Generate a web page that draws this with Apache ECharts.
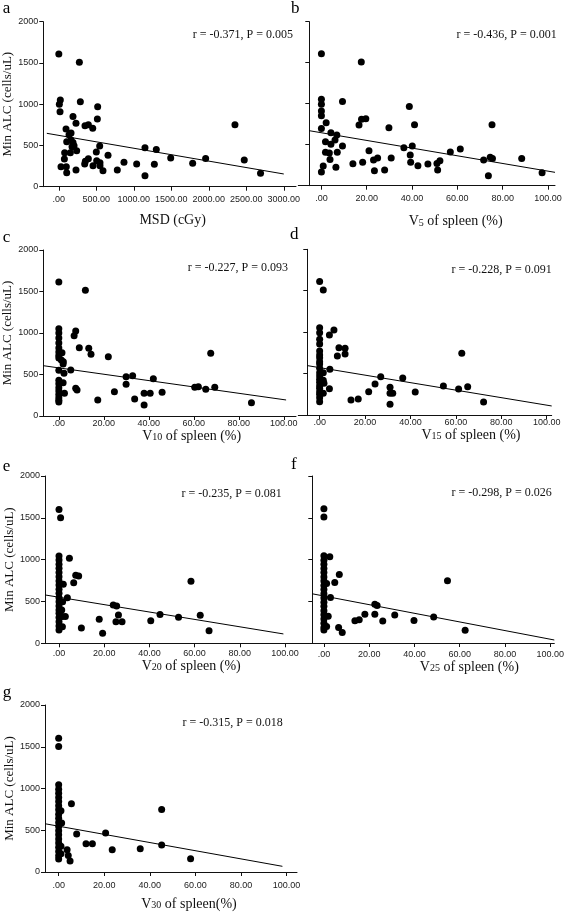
<!DOCTYPE html>
<html><head><meta charset="utf-8">
<script src="https://cdn.jsdelivr.net/npm/echarts@6/dist/echarts.min.js"></script>
<style>html,body{margin:0;padding:0;background:#fff}#c{width:567px;height:913px}</style>
</head><body><div id="c"></div>
<script>
// ---------- tick labels ----------
const yTicks = [0, 500, 1000, 1500, 2000];
const msdTicks = [0, 500, 1000, 1500, 2000, 2500, 3000];
const pctTicks = [0, 20, 40, 60, 80, 100];

// ---------- panel a: MSD (cGy) ----------
const aX = [0, 274, 7, 20, 16, 287, 518, 189, 514, 229, 349, 394, 452, 96, 136, 163, 163, 189, 105, 203, 176, 154, 238, 78, 545, 500, 74, 29, 100, 105, 229, 354, 345, 394, 456, 505, 549, 549, 589, 656, 780, 869, 1038, 1149, 1274, 1149, 1300, 1492, 1785, 1958, 2349, 2473, 2690];
const aY = [1610, 1510, 1000, 1050, 910, 1030, 970, 850, 820, 770, 740, 750, 710, 700, 630, 650, 566, 537, 545, 497, 485, 412, 436, 412, 493, 420, 335, 242, 242, 170, 202, 307, 275, 339, 255, 315, 291, 255, 194, 380, 202, 295, 275, 133, 271, 473, 450, 347, 283, 343, 752, 323, 162];
const aFitX = [-160, 3000];
const aFitY = [647, 154];

// ---------- panel b: V5 ----------
const bX = [0, 17.6, 0, 0, 0, 0, 9.3, 2.1, 0, 4.2, 6.8, 1.8, 6.0, 4.2, 9.3, 1.8, 3.5, 7.0, 3.8, 0.8, 0, 6.4, 16.6, 17.7, 19.6, 29.8, 21, 13.9, 18.2, 23, 24.8, 23.4, 27.9, 30.8, 38.8, 41.1, 36.4, 40.1, 39.2, 39.4, 42.6, 47, 51, 52.3, 51.3, 56.9, 61.3, 71.6, 73.7, 74.5, 75.5, 75.3, 88.4, 97.4];
const bY = [1610, 1508, 1053, 992, 911, 854, 1028, 768, 699, 646, 618, 537, 557, 504, 484, 407, 398, 407, 321, 240, 167, 224, 740, 809, 817, 707, 427, 268, 285, 313, 337, 183, 191, 337, 967, 744, 463, 484, 374, 285, 244, 264, 272, 305, 191, 411, 447, 313, 122, 346, 333, 744, 333, 159];
const bFitX = [-5.4, 103.1];
const bFitY = [671, 163];

// ---------- panel c: V10 ----------
const cX = [0, 11.8, 0, 0, 0, 0, 0, 0, 0, 0, 0, 0, 0, 0, 0, 0, 0, 0, 0, 1.4, 1.1, 2, 1.9, 2.3, 1.9, 2.5, 5.3, 8.1, 7.5, 6.8, 7.5, 9.1, 13.3, 14.3, 22, 17.3, 24.7, 29.9, 29.9, 32.8, 33.7, 37.9, 37.9, 40.6, 42, 45.9, 60.4, 62, 65.3, 69.3, 67.5, 85.6];
const cY = [1614, 1514, 1050, 1000, 940, 880, 820, 770, 730, 700, 550, 430, 390, 340, 300, 260, 220, 190, 170, 763, 675, 655, 626, 514, 402, 273, 554, 313, 333, 968, 1024, 823, 815, 743, 715, 193, 293, 474, 382, 486, 205, 273, 133, 273, 450, 285, 345, 353, 321, 345, 755, 161];
const cFitX = [-6.9, 101];
const cFitY = [606, 193];

// ---------- panel d: V15 ----------
const dX = [0, 1.6, 0, 0, 0, 0, 0, 0, 0, 0, 0, 0, 0, 0, 0, 0, 0, 0, 0, 0, 0, 0, 1.6, 1.6, 1.9, 1.6, 4.5, 4.3, 4.3, 6.3, 7.8, 8.5, 11.2, 11.2, 13.8, 17, 21.6, 24.4, 26.9, 31, 31, 32.2, 31, 36.6, 42.1, 54.5, 61.2, 65.2, 62.6, 72.2];
const dY = [1610, 1509, 1054, 994, 913, 857, 773, 724, 692, 644, 616, 563, 511, 471, 431, 394, 354, 322, 282, 250, 209, 161, 511, 420, 382, 262, 551, 318, 966, 1026, 712, 813, 805, 736, 181, 193, 282, 374, 463, 334, 262, 262, 129, 447, 278, 350, 314, 342, 744, 157];
const dFitX = [-5.4, 102.2];
const dFitY = [596, 109];

// ---------- panel e: V20 ----------
const eX = [0, 0.7, 0, 0, 0, 0, 0, 0, 0, 0, 0, 0, 0, 0, 0, 0, 0, 0, 0, 0, 0, 1.9, 1.2, 1.5, 1.5, 1.6, 2.8, 4.6, 6.5, 7.4, 8.7, 3.7, 9.9, 17.8, 19.3, 24, 25.5, 26.3, 25.2, 27.9, 40.6, 44.7, 52.9, 58.4, 62.5, 66.4];
const eY = [1600, 1500, 1044, 996, 944, 896, 845, 797, 745, 697, 645, 598, 546, 498, 446, 398, 359, 307, 259, 207, 159, 705, 398, 319, 199, 498, 319, 1016, 725, 813, 805, 546, 183, 287, 120, 458, 446, 339, 259, 259, 271, 343, 311, 741, 335, 151];
const eFitX = [-6.2, 99.3];
const eFitY = [578, 112];

// ---------- panel f: V25 ----------
const fX = [0, 0, 0, 0, 0, 0, 0, 0, 0, 0, 0, 0, 0, 0, 0, 0, 0, 0, 0, 0, 0, 2.6, 1.2, 4.8, 6.8, 2.9, 1.9, 1.2, 6.5, 8.1, 13.7, 15.6, 18.1, 22.5, 22.5, 23.5, 26, 31.3, 39.8, 48.5, 54.6, 62.4];
const fY = [1609, 1509, 1044, 992, 944, 891, 843, 790, 742, 690, 641, 589, 540, 488, 440, 387, 339, 286, 238, 185, 157, 1032, 714, 726, 819, 544, 319, 198, 185, 125, 266, 278, 343, 343, 464, 448, 262, 335, 270, 310, 746, 153];
const fFitX = [-5.1, 101.8];
const fFitY = [589, 36];

// ---------- panel g: V30 ----------
const gX = [0, 0, 0, 0, 0, 0, 0, 0, 0, 0, 0, 0, 0, 0, 0, 0, 0, 0, 0, 0, 0, 1, 1.3, 1, 1, 3.7, 4.2, 5, 5.6, 7.9, 12, 14.8, 20.6, 23.5, 35.8, 45.2, 45.2, 57.9];
const gY = [1602, 1502, 1044, 992, 944, 892, 845, 793, 745, 693, 645, 594, 546, 494, 446, 394, 347, 295, 247, 195, 155, 733, 586, 307, 219, 267, 199, 131, 817, 454, 339, 339, 466, 267, 279, 749, 323, 159];
const gFitX = [-6, 98.2];
const gFitY = [578, 68];

// ---------- texts ----------
const panelLetters = ['a', 'b', 'c', 'd', 'e', 'f', 'g'];
const statTexts = ['r = -0.371, P = 0.005', 'r = -0.436, P = 0.001', 'r = -0.227, P = 0.093', 'r = -0.228, P = 0.091', 'r = -0.235, P = 0.081', 'r = -0.298, P = 0.026', 'r = -0.315, P = 0.018'];
const xTitleParts = [['MSD (cGy)', '', ''], ['V', '5', ' of spleen (%)'], ['V', '10', ' of spleen (%)'], ['V', '15', ' of spleen (%)'], ['V', '20', ' of spleen (%)'], ['V', '25', ' of spleen (%)'], ['V', '30', ' of spleen(%)']];
const yTitle = 'Min ALC (cells/uL)';

const panelData = [
  [aX, aY, aFitX, aFitY, msdTicks], [bX, bY, bFitX, bFitY, pctTicks], [cX, cY, cFitX, cFitY, pctTicks],
  [dX, dY, dFitX, dFitY, pctTicks], [eX, eY, eFitX, eFitY, pctTicks], [fX, fY, fFitX, fFitY, pctTicks],
  [gX, gY, gFitX, gFitY, pctTicks]
];

// ---------- layout (positions only) ----------
const layout = [
  {left: 43.3, top: 21.7, width: 252.7, height: 165, xMin: -207, xMax: 3163, yOff: 0, showY: true, lblMargin: 8, nameGap: 27, nameShift: 3, letter: [2.7, 8.5], stat: [293, 35]},
  {left: 298.3, top: 21.7, width: 256.7, height: 164, xMin: -10.2, xMax: 103.1, yOff: -11, showY: false, lblMargin: 8, nameGap: 29, nameShift: 29, letter: [291, 8.5], stat: [556.7, 35]},
  {left: 43.3, top: 250, width: 252.7, height: 166, xMin: -6.9, xMax: 105.4, yOff: 0, showY: true, lblMargin: 3, nameGap: 10, nameShift: 22, letter: [2.7, 238], stat: [288, 268]},
  {left: 298.3, top: 249.3, width: 253.4, height: 165.7, xMin: -9.4, xMax: 102.2, yOff: -9, showY: false, lblMargin: 3, nameGap: 11, nameShift: 46, letter: [290, 235], stat: [551.7, 270]},
  {left: 45, top: 476, width: 244.5, height: 167.3, xMin: -6.2, xMax: 102, yOff: 0, showY: true, lblMargin: 6, nameGap: 13, nameShift: 24, letter: [2.7, 467], stat: [281.7, 494]},
  {left: 284.3, top: 476, width: 270.7, height: 167, xMin: -17.5, xMax: 101.8, yOff: -28, showY: false, lblMargin: 7, nameGap: 16, nameShift: 50, letter: [291, 465], stat: [551.7, 493]},
  {left: 45, top: 705, width: 252, height: 167, xMin: -6, xMax: 104.6, yOff: 0, showY: true, lblMargin: 9, nameGap: 25, nameShift: 18, letter: [2.7, 693], stat: [282.7, 723]}
];

const SERIF = '"Liberation Serif", "DejaVu Serif", serif';
const SANS = '"Liberation Sans", Arial, sans-serif';
const AX = '#111';

const grids = [], xAxes = [], yAxes = [], series = [], graphics = [];
layout.forEach((L, i) => {
  const [xs, ys, fx, fy, xt] = panelData[i];
  const parts = xTitleParts[i];
  grids.push({left: L.left, top: L.top, width: L.width, height: L.height, containLabel: false});
  xAxes.push({
    type: 'value', gridIndex: i, min: L.xMin, max: L.xMax,
    axisLine: {onZero: false, lineStyle: {color: AX, width: 1}},
    axisTick: {show: true, length: 4, customValues: xt, lineStyle: {color: AX}},
    axisLabel: {customValues: xt, margin: L.lblMargin, fontFamily: SANS, fontSize: 9, color: '#222',
      formatter: v => v === 0 ? '.00' : v.toFixed(2)},
    splitLine: {show: false},
    name: parts[1] ? '{n|' + parts[0] + '}{s|' + parts[1] + '}{n|' + parts[2] + '}' : '{n|' + parts[0] + '}',
    nameLocation: 'middle', nameGap: L.nameGap,
    nameTextStyle: {padding: [0, 0, 0, 2 * L.nameShift],
      rich: {n: {fontFamily: SERIF, fontSize: 14, color: '#111'}, s: {fontFamily: SERIF, fontSize: 10, color: '#111', padding: [3, 0, 0, 0]}}}
  });
  yAxes.push({
    type: 'value', gridIndex: i, min: 0, max: 2000, interval: 500, offset: L.yOff,
    axisLine: {show: true, onZero: false, lineStyle: {color: AX, width: 1}},
    axisTick: {show: true, length: 4, lineStyle: {color: AX}},
    axisLabel: {show: L.showY, margin: 5, fontFamily: SANS, fontSize: 9, color: '#222',
      customValues: yTicks, formatter: v => String(v)},
    splitLine: {show: false},
    name: L.showY ? yTitle : '', nameLocation: 'middle', nameRotate: 90, nameGap: 25,
    nameTextStyle: {fontFamily: SERIF, fontSize: 13, color: '#111'}
  });
  series.push({
    type: 'scatter', xAxisIndex: i, yAxisIndex: i, symbolSize: 7, silent: true,
    itemStyle: {color: '#000', opacity: 1}, data: xs.map((x, j) => [x, ys[j]])
  });
  series.push({
    type: 'line', xAxisIndex: i, yAxisIndex: i, symbol: 'none', silent: true,
    lineStyle: {color: '#000', width: 1}, data: fx.map((x, j) => [x, fy[j]])
  });
  graphics.push({type: 'text', x: L.letter[0], y: L.letter[1],
    style: {text: panelLetters[i], align: 'left', verticalAlign: 'middle', fontFamily: SERIF, fontSize: 17, fill: '#000'}});
  graphics.push({type: 'text', x: L.stat[0], y: L.stat[1],
    style: {text: statTexts[i], align: 'right', verticalAlign: 'middle', fontFamily: SERIF, fontSize: 12, fill: '#111'}});
});

const chart = echarts.init(document.getElementById('c'), null, {renderer: 'canvas'});
chart.setOption({
  animation: false, backgroundColor: '#fff',
  grid: grids, xAxis: xAxes, yAxis: yAxes, series: series, graphic: graphics
});
</script></body></html>
